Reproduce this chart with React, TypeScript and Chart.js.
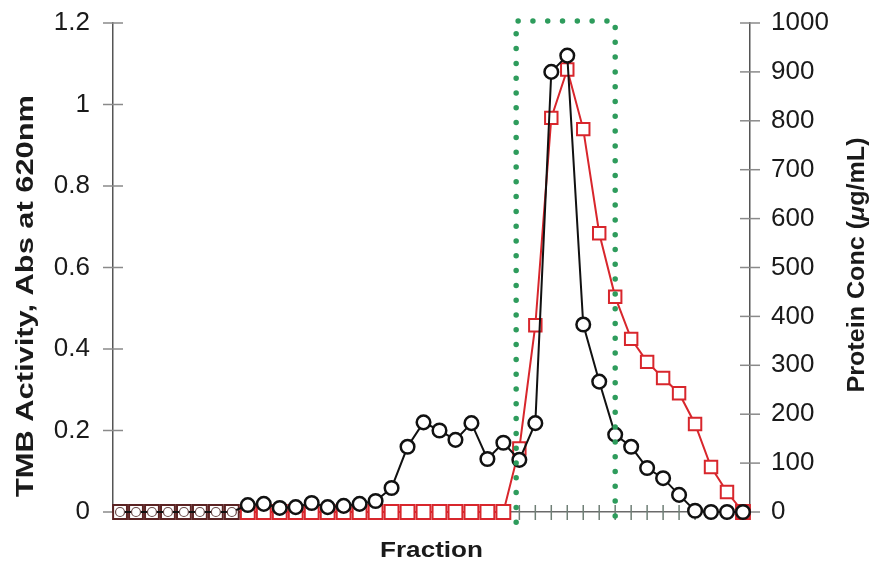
import React, { useEffect, useRef } from 'react';
import { Chart, registerables } from 'chart.js';
Chart.register(...registerables);

// Fraction index (0-based position along the x axis)
const fractions = [0,1,2,3,4,5,6,7,8,9,10,11,12,13,14,15,16,17,18,19,20,21,22,23,24,25,26,27,28,29,30,31,32,33,34,35,36,37,38,39];

// TMB activity (Abs at 620nm), left axis
const tmbActivity = [0,0,0,0,0,0,0,0,0.017,0.02,0.01,0.012,0.022,0.012,0.015,0.02,0.027,0.059,0.16,0.22,0.2,0.177,0.218,0.13,0.17,0.128,0.218,1.08,1.12,0.46,0.32,0.19,0.16,0.108,0.083,0.042,0.003,0,0,0];

// Protein concentration (ug/mL), right axis
const proteinConc = [0,0,0,0,0,0,0,0,0,0,0,0,0,0,0,0,0,0,0,0,0,0,0,0,0,130,382,806,905,783,570,440,354,307,274,243,180,92,41,0];

// Selected (pooled) fraction window, drawn as dotted box
const poolStart = 24.8;
const poolEnd = 31.0;
const poolLow = -0.025;
const poolHigh = 1.205;

const leftTicks = [0, 0.2, 0.4, 0.6, 0.8, 1, 1.2];
const rightTicks = [0, 100, 200, 300, 400, 500, 600, 700, 800, 900, 1000];

const FONT = "'Liberation Sans', Arial, sans-serif";

function drawStretched(ctx: any, parts: { t: string; italic?: boolean }[], size: number, target: number) {
  let total = 0;
  const widths = parts.map((p) => {
    ctx.font = `${p.italic ? 'italic ' : ''}bold ${size}px ${FONT}`;
    const w = ctx.measureText(p.t).width;
    total += w;
    return w;
  });
  const k = target / total;
  ctx.scale(k, 1);
  ctx.textAlign = 'left';
  ctx.textBaseline = 'middle';
  let sx = -total / 2;
  parts.forEach((p, i) => {
    ctx.font = `${p.italic ? 'italic ' : ''}bold ${size}px ${FONT}`;
    ctx.fillText(p.t, sx, 0);
    sx += widths[i];
  });
}

export default function App() {
  const ref = useRef<HTMLCanvasElement>(null);
  useEffect(() => {
    if (!ref.current) return;
    const tickPlugin = {
      id: 'tickmarks',
      beforeDatasetsDraw(chart: any) {
        const { ctx, scales } = chart;
        const y = scales.y, y1 = scales.y1, x = scales.x;
        ctx.save();
        ctx.strokeStyle = '#8a8a8a';
        ctx.lineWidth = 1.5;
        leftTicks.forEach((v) => {
          const py = y.getPixelForValue(v);
          ctx.beginPath();
          ctx.moveTo(y.right - 10, py);
          ctx.lineTo(y.right + 10, py);
          ctx.stroke();
        });
        rightTicks.forEach((v) => {
          const py = y1.getPixelForValue(v);
          ctx.beginPath();
          ctx.moveTo(y1.left - 10, py);
          ctx.lineTo(y1.left + 10, py);
          ctx.stroke();
        });
        ctx.strokeStyle = '#6f7f76';
        fractions.forEach((f) => {
          const px = x.getPixelForValue(f);
          ctx.beginPath();
          ctx.moveTo(px, x.top - 7);
          ctx.lineTo(px, x.top + 8);
          ctx.stroke();
        });
        ctx.restore();
      },
      afterDraw(chart: any) {
        const { ctx, chartArea } = chart;
        ctx.save();
        ctx.fillStyle = '#1a1a1a';
        // left title
        ctx.save();
        ctx.translate(27, 296);
        ctx.rotate(-Math.PI / 2);
        drawStretched(ctx, [{ t: 'TMB Activity, Abs at 620nm' }], 23, 402);
        ctx.restore();
        // right title with italic mu
        ctx.save();
        ctx.translate(858, 265);
        ctx.rotate(-Math.PI / 2);
        drawStretched(ctx, [{ t: 'Protein Conc (' }, { t: 'μ', italic: true }, { t: 'g/mL)' }], 23, 255);
        ctx.restore();
        // bottom title
        ctx.save();
        ctx.translate((chartArea.left + chartArea.right) / 2, 551);
        drawStretched(ctx, [{ t: 'Fraction' }], 22, 103);
        ctx.restore();
        ctx.restore();
      },
    };

    const zeroPad = (s: any) => {
      s.paddingTop = 0;
      s.paddingBottom = 0;
      s.paddingLeft = 0;
      s.paddingRight = 0;
    };

    const chart = new Chart(ref.current, {
      type: 'line',
      data: {
        datasets: [
          {
            label: 'Pool',
            data: [
              { x: poolStart, y: poolLow },
              { x: poolStart, y: poolHigh },
              { x: poolEnd, y: poolHigh },
              { x: poolEnd, y: poolLow },
            ],
            yAxisID: 'y',
            borderColor: '#2e9c5c',
            borderWidth: 5.5,
            borderDash: [0, 14.8],
            borderCapStyle: 'round',
            borderJoinStyle: 'round',
            pointRadius: 0,
            fill: false,
            tension: 0,
            clip: false as any,
            order: 0,
          },
          {
            label: 'TMB Activity',
            data: tmbActivity.map((v, i) => ({ x: fractions[i], y: v })),
            yAxisID: 'y',
            borderColor: '#111111',
            borderWidth: 2,
            pointStyle: 'circle',
            pointRadius: (c: any) => (c.dataIndex < 8 ? 4.5 : 6.8),
            pointBorderWidth: (c: any) => (c.dataIndex < 8 ? 1.2 : 2.5),
            pointBorderColor: (c: any) => (c.dataIndex < 8 ? '#6a4a4a' : '#111111'),
            pointBackgroundColor: '#ffffff',
            tension: 0,
            clip: false as any,
            order: 1,
          },
          {
            label: 'Protein Conc',
            data: proteinConc.map((v, i) => ({ x: fractions[i], y: v })),
            yAxisID: 'y1',
            borderColor: '#d8262c',
            borderWidth: 2,
            segment: {
              borderColor: (c: any) => (c.p1DataIndex <= 8 ? '#5b2323' : undefined),
            },
            pointStyle: 'rect',
            pointRadius: (c: any) => (c.raw && c.raw.y === 0 ? 9.8 : 8.8),
            pointBorderWidth: 2,
            pointBorderColor: (c: any) => (c.dataIndex < 8 ? '#5b2323' : '#d8262c'),
            pointBackgroundColor: '#ffffff',
            tension: 0,
            clip: false as any,
            order: 2,
          },
        ],
      },
      options: {
        animation: false,
        responsive: false,
        devicePixelRatio: 1,
        layout: { padding: { top: 23, left: 0, right: 0, bottom: 0 } },
        plugins: { legend: { display: false }, tooltip: { enabled: false } },
        scales: {
          x: {
            type: 'linear',
            min: -0.44,
            max: 39.44,
            ticks: { display: false },
            grid: { display: false },
            border: { display: true, color: '#6a6a6a', width: 1.5 },
            afterFit(s: any) { s.height = 54; zeroPad(s); },
          },
          y: {
            type: 'linear',
            position: 'left',
            min: 0,
            max: 1.2,
            afterBuildTicks(s: any) { s.ticks = leftTicks.map((v) => ({ value: v })); },
            ticks: {
              padding: 15,
              color: '#1a1a1a',
              font: { family: FONT, size: 26 },
              callback: (v: any) => String(v),
            },
            grid: { display: false },
            border: { display: true, color: '#555555', width: 1.5 },
            afterFit(s: any) { s.width = 113; zeroPad(s); },
          },
          y1: {
            type: 'linear',
            position: 'right',
            min: 0,
            max: 1000,
            afterBuildTicks(s: any) { s.ticks = rightTicks.map((v) => ({ value: v })); },
            ticks: {
              padding: 13,
              color: '#1a1a1a',
              font: { family: FONT, size: 26 },
              callback: (v: any) => String(v),
            },
            grid: { display: false },
            border: { display: true, color: '#555555', width: 1.5 },
            afterFit(s: any) { s.width = 126; zeroPad(s); },
          },
        },
      },
      plugins: [tickPlugin],
    } as any);
    return () => chart.destroy();
  }, []);
  return (
    <div style={{ position: 'absolute', left: 0, top: 0, width: 876, height: 566, background: '#fff' }}>
      <canvas ref={ref} width={876} height={566} />
    </div>
  );
}
